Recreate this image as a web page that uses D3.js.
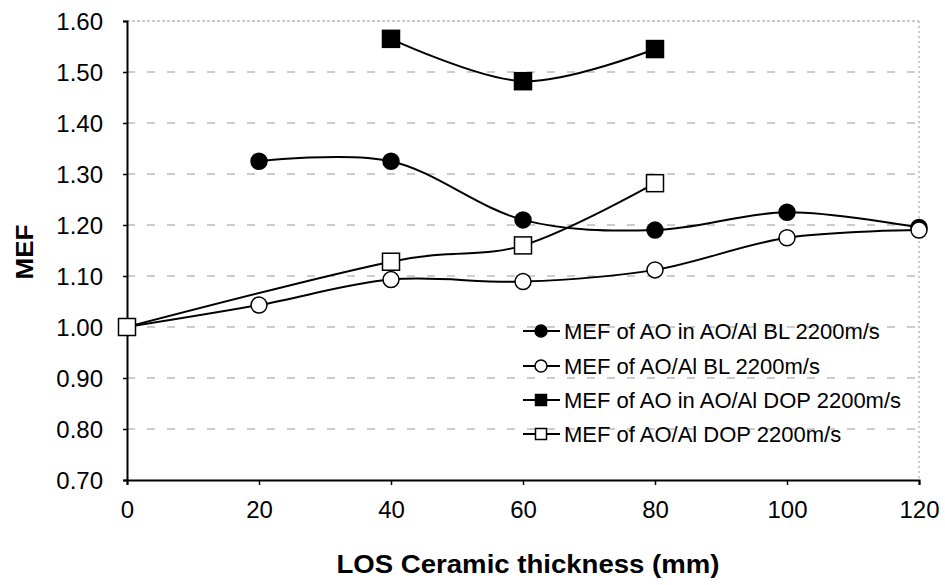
<!DOCTYPE html>
<html>
<head>
<meta charset="utf-8">
<script src="https://cdn.jsdelivr.net/npm/d3@7"></script>
<style>
  body { margin: 0; background: #fff; }
  svg { font-family: Arial, "Liberation Sans", sans-serif; }
</style>
</head>
<body>
<svg id="chart" width="945" height="585"></svg>
<script>
var svgWidth = 945;
var svgHeight = 585;

// data
var thickness = [0, 20, 40, 60, 80, 100, 120];
var aoInBLx = [20, 40, 60, 80, 100, 120];
var aoInBL = [1.325, 1.325, 1.21, 1.19, 1.225, 1.195];
var aoAlBL = [1.00, 1.043, 1.093, 1.089, 1.112, 1.175, 1.19];
var aoInDOPx = [40, 60, 80];
var aoInDOP = [1.565, 1.482, 1.545];
var aoAlDOPx = [0, 40, 60, 80];
var aoAlDOP = [1.00, 1.128, 1.16, 1.282];
var yTicks = [0.7, 0.8, 0.9, 1.0, 1.1, 1.2, 1.3, 1.4, 1.5, 1.6];
var legendLabels = [
  "MEF of AO in AO/Al BL 2200m/s",
  "MEF of AO/Al BL 2200m/s",
  "MEF of AO in AO/Al DOP 2200m/s",
  "MEF of AO/Al DOP 2200m/s"
];

var plotLeft = 127, plotRight = 919, plotTop = 21, plotBottom = 480;

var x = d3.scaleLinear().domain([0, 120]).range([plotLeft, plotRight]);
var y = d3.scaleLinear().domain([0.7, 1.6]).range([plotBottom, plotTop]);

var svg = d3.select("#chart");

// grid lines (dashed, grey)
svg.append("g")
  .selectAll("line")
  .data(yTicks.slice(1))
  .enter()
  .append("line")
  .attr("x1", plotLeft)
  .attr("x2", plotRight)
  .attr("y1", function(d){ return y(d); })
  .attr("y2", function(d){ return y(d); })
  .attr("stroke", "#999")
  .attr("stroke-width", 1)
  .attr("stroke-dasharray", function(d){ return d === 1.6 ? "3,2" : "8,12"; });

// right border, dotted
svg.append("line")
  .attr("x1", plotRight).attr("x2", plotRight)
  .attr("y1", plotTop).attr("y2", plotBottom)
  .attr("stroke", "#999")
  .attr("stroke-dasharray", "2,3");

// axes
var xAxis = d3.axisBottom(x).tickValues(thickness).tickSize(5).tickPadding(16);
var yAxis = d3.axisLeft(y).tickValues(yTicks).tickSize(4).tickPadding(20)
  .tickFormat(d3.format(".2f"));

var gx = svg.append("g")
  .attr("transform", "translate(0," + plotBottom + ")")
  .call(xAxis);
var gy = svg.append("g")
  .attr("transform", "translate(" + plotLeft + ",0)")
  .call(yAxis);

[gx, gy].forEach(function(g){
  g.select(".domain").attr("stroke", "#000").attr("stroke-width", 2);
  g.selectAll(".tick line").attr("stroke", "#000").attr("stroke-width", 1.5);
  g.selectAll(".tick text")
    .attr("fill", "#000")
    .attr("font-size", 24)
    .attr("font-family", "Arial, 'Liberation Sans', sans-serif");
});
gy.selectAll(".tick text").attr("dy", "0.36em");

// axis titles
svg.append("text")
  .attr("x", 528)
  .attr("y", 573)
  .attr("text-anchor", "middle")
  .attr("font-size", 25)
  .attr("font-weight", "bold")
  .attr("textLength", 383)
  .attr("lengthAdjust", "spacingAndGlyphs")
  .text("LOS Ceramic thickness (mm)");

svg.append("text")
  .attr("transform", "translate(33,252) rotate(-90)")
  .attr("text-anchor", "middle")
  .attr("font-size", 24)
  .attr("font-weight", "bold")
  .attr("textLength", 55)
  .attr("lengthAdjust", "spacingAndGlyphs")
  .text("MEF");

// series lines, smoothed
var line = d3.line()
  .x(function(d){ return x(d[0]); })
  .y(function(d){ return y(d[1]); })
  .curve(d3.curveCardinal.tension(0));

function zip(xs, ys){
  return xs.map(function(v, i){ return [v, ys[i]]; });
}

var series = [
  { pts: zip(aoInBLx, aoInBL), shape: "circle", fill: "#000" },
  { pts: zip(thickness, aoAlBL), shape: "circle", fill: "#fff" },
  { pts: zip(aoInDOPx, aoInDOP), shape: "square", fill: "#000" },
  { pts: zip(aoAlDOPx, aoAlDOP), shape: "square", fill: "#fff" }
];

series.forEach(function(s){
  svg.append("path")
    .attr("d", line(s.pts))
    .attr("fill", "none")
    .attr("stroke", "#000")
    .attr("stroke-width", 2);
});

function drawMarker(g, shape, fill, cx, cy, size){
  if (shape === "circle") {
    g.append("circle")
      .attr("cx", cx).attr("cy", cy).attr("r", size / 2)
      .attr("fill", fill).attr("stroke", "#000").attr("stroke-width", 1.5);
  } else {
    g.append("rect")
      .attr("x", cx - size / 2).attr("y", cy - size / 2)
      .attr("width", size).attr("height", size)
      .attr("fill", fill).attr("stroke", "#000").attr("stroke-width", 1.5);
  }
}

series.forEach(function(s){
  var g = svg.append("g");
  s.pts.forEach(function(p){
    drawMarker(g, s.shape, s.fill, x(p[0]), y(p[1]), s.shape === "circle" ? 16 : 17);
  });
});

// legend
var legendY = [331, 366, 400, 434];
var legend = svg.append("g");
series.forEach(function(s, i){
  legend.append("line")
    .attr("x1", 523).attr("x2", 560)
    .attr("y1", legendY[i]).attr("y2", legendY[i])
    .attr("stroke", "#000").attr("stroke-width", 2);
  drawMarker(legend, s.shape, s.fill, 541, legendY[i], s.shape === "circle" ? 12 : 11);
  legend.append("text")
    .attr("x", 564)
    .attr("y", legendY[i])
    .attr("dy", "0.36em")
    .attr("font-size", 22)
    .text(legendLabels[i]);
});
</script>
</body>
</html>
